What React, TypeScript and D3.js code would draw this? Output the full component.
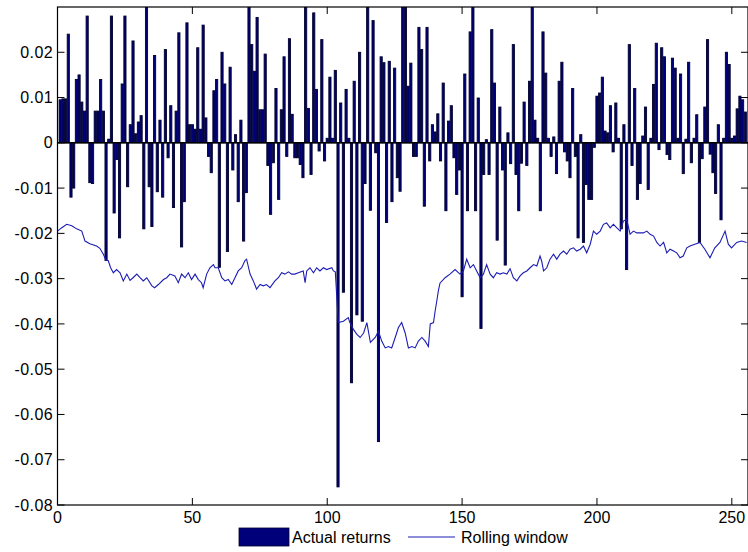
import React from 'react';
import * as d3 from 'd3';

// daily returns, one bar per day (day 1..255)
const returns = [
  0.0095, 0.0097, 0.0097, 0.024, -0.012, -0.01, 0.014, 0.015, 0.009, 0.007,
  0.028, -0.0088, -0.009, 0.007, 0.007, 0.014, 0.007, -0.026, 0.0008, 0.028,
  -0.0155, -0.0037, -0.021, 0.013, 0.028, -0.0097, 0.004, 0.0225, 0.002, 0.0046,
  0.006, -0.019, 0.031, -0.0097, -0.0185, 0.0193, -0.0108, 0.005, -0.012, 0.0206,
  -0.0033, 0.0082, -0.0143, 0.007, 0.0243, -0.023, -0.013, 0.0265, 0.004, 0.004,
  0.003, 0.021, 0.003, 0.026, 0.0055, -0.003, -0.0066, 0.0115, 0.014, -0.0275,
  0.02, 0.013, -0.024, 0.0167, -0.006, 0.0018, -0.013, 0.005, -0.0217, -0.011,
  0.031, 0.0217, 0.0158, 0.0277, 0.0073, 0.0073, 0.0196, -0.005, -0.0158, -0.0044,
  0.012, -0.0125, 0.0073, 0.019, -0.003, 0.023, 0.0063, -0.0033, -0.0033, -0.0048,
  -0.0077, 0.031, 0.0076, -0.007, 0.0287, 0.0118, -0.0018, 0.0228, -0.004, 0.001,
  0.0145, 0.001, 0.016, -0.076, 0.0088, -0.033, 0.0118, 0.001, -0.053, 0.0136,
  -0.038, 0.02, -0.0394, -0.009, 0.031, -0.0149, 0.027, -0.0022, -0.066, 0.019,
  0.0177, -0.0176, 0.018, -0.013, 0.0165, -0.0077, -0.0107, 0.031, 0.031, 0.0125,
  0.0176, -0.003, -0.003, 0.0255, 0.0206, -0.014, 0.0255, -0.004, 0.004, 0.0024,
  0.0064, -0.004, 0.0132, -0.015, 0.0048, 0.0082, -0.0033, -0.0114, -0.006, -0.034,
  0.0152, -0.015, 0.0245, 0.031, -0.015, 0.0099, -0.041, -0.007, 0.0007, -0.007,
  0.025, 0.0132, -0.0215, 0.0079, -0.006, -0.027, 0.0022, -0.0046, 0.0217, -0.007,
  -0.015, -0.0045, 0.009, -0.005, 0.0136, 0.031, 0.005, 0.001, -0.015, 0.0245,
  0.0154, 0.001, -0.003, 0.0013, -0.0068, 0.0136, 0.0178, -0.002, -0.004, -0.0077,
  0.012, -0.003, -0.021, 0.0018, -0.022, -0.0092, -0.0125, -0.0125, -0.001, 0.0103,
  0.011, 0.0145, 0.0026, 0.0022, 0.0082, -0.002, 0.0088, 0.001, -0.019, 0.004,
  -0.028, 0.0217, -0.005, 0.012, -0.0125, -0.009, 0.0015, 0.0079, -0.0103, 0.001,
  0.0129, 0.022, -0.0015, 0.021, 0.019, -0.0026, -0.0037, 0.0187, 0.0165, 0.001,
  0.0152, -0.0068, 0.0008, 0.0178, -0.0044, 0.001, 0.0062, -0.022, -0.0035, 0.0079,
  0.0228, -0.0025, -0.0066, -0.0112, 0.004, -0.017, 0.001, 0.02, 0.0173, 0.001,
  0.0015, 0.0075, 0.0103, 0.0095, 0.0068,
];

// rolling window estimate
const rollingDay = [
  0, 1.5, 3.4, 5.3, 7.1, 9, 10.2, 12, 14.5, 15.7, 17, 18, 18.8, 19.7, 20.7, 21.9, 23.2, 24.4, 25.7, 26.9,
  28, 29.4, 30.6, 31.8, 33.1, 35, 36, 37.4, 39.3, 40.5, 41.7, 43.5, 44.8, 46, 47.3, 48.5, 49.7, 51, 52.2, 53.4,
  54, 55.3, 56.5, 57.8, 58.4, 59.6, 60.9, 62.1, 63.3, 64.6, 65.8, 67, 68.3, 69.5, 70.1, 71.4, 72.6, 73.8, 75.1, 76.3,
  77.5, 78.8, 80.6, 81.9, 83.1, 84.3, 85.6, 86.8, 88, 89.3, 91.1, 91.8, 92.4, 93.6, 94.9, 96.1, 97.3, 98.6, 99.8, 101.7,
  102.3, 103, 104.1, 106, 107.8, 108.4, 109.7, 111, 112.2, 113.5, 114.7, 116, 117.8, 119, 120.2, 121.5, 122.7, 123.9, 125.2, 126.4,
  127.6, 128.9, 130.1, 131.4, 132.6, 133.8, 135.1, 136.3, 137.5, 138.2, 139.4, 140, 140.6, 141.2, 141.8, 143.7, 145.5, 147.4, 149.2, 150.5,
  151.7, 153, 154.2, 155.4, 156.7, 157.9, 159.1, 160.4, 161.6, 162.8, 164.1, 165.3, 166.6, 167.8, 169, 170.3, 171.5, 172.7, 174, 175.2,
  176.5, 177.7, 178.9, 179.5, 180.2, 181.4, 182.6, 183.9, 185.1, 186.3, 187.6, 188.8, 190, 191.3, 192.5, 193.8, 195, 196.2, 197.5, 198.7,
  199.9, 201.2, 202.4, 203.6, 204.9, 206.1, 207.4, 208.6, 209.8, 211, 212.3, 213.5, 214.8, 216, 217.2, 218.5, 219.7, 221, 222.2, 223.4,
  224.7, 225.9, 227.1, 228.4, 229.6, 230.8, 232, 233.3, 234.5, 236.3, 238.2, 240, 241.9, 243.7, 245.6, 247.5, 248.7, 249.9, 251.8, 253.6,
  255.5,
];
const rollingValue = [
  -0.0195, -0.0188, -0.018, -0.0183, -0.019, -0.0195, -0.0217, -0.0223, -0.0228, -0.0233, -0.0246, -0.026, -0.026, -0.0276, -0.0287, -0.028, -0.0287, -0.0305, -0.029, -0.0304,
  -0.0298, -0.029, -0.0298, -0.0305, -0.0298, -0.0316, -0.032, -0.0313, -0.0302, -0.0298, -0.029, -0.0294, -0.0309, -0.029, -0.0298, -0.0287, -0.0302, -0.029, -0.0302, -0.0309,
  -0.032, -0.029, -0.0276, -0.0269, -0.0276, -0.0276, -0.0298, -0.0305, -0.0302, -0.0313, -0.0298, -0.0283, -0.0276, -0.026, -0.0257, -0.029, -0.0305, -0.0323, -0.0313, -0.0316,
  -0.0313, -0.032, -0.0305, -0.0298, -0.0287, -0.029, -0.0285, -0.029, -0.029, -0.0287, -0.0283, -0.0309, -0.0283, -0.0276, -0.0287, -0.0276, -0.0283, -0.0276, -0.028, -0.0276,
  -0.0283, -0.0285, -0.0397, -0.0394, -0.0386, -0.0397, -0.0412, -0.0423, -0.043, -0.042, -0.0397, -0.0441, -0.043, -0.0416, -0.0438, -0.0453, -0.045, -0.0453, -0.043, -0.0408,
  -0.0397, -0.042, -0.0453, -0.045, -0.0453, -0.0438, -0.043, -0.0438, -0.045, -0.04, -0.0397, -0.0372, -0.035, -0.0327, -0.031, -0.0298, -0.029, -0.028, -0.029, -0.0283,
  -0.0257, -0.0276, -0.0269, -0.0283, -0.0298, -0.029, -0.0269, -0.029, -0.0298, -0.0287, -0.029, -0.0287, -0.029, -0.0278, -0.0298, -0.0305, -0.0294, -0.0287, -0.0283, -0.0276,
  -0.0269, -0.0272, -0.025, -0.0261, -0.0283, -0.0276, -0.0257, -0.0246, -0.0257, -0.0246, -0.0239, -0.0246, -0.0235, -0.0232, -0.0239, -0.0235, -0.0228, -0.0243, -0.0224, -0.0195,
  -0.0202, -0.0195, -0.018, -0.0177, -0.0188, -0.018, -0.0188, -0.0195, -0.0173, -0.0169, -0.0202, -0.0195, -0.0199, -0.0199, -0.0199, -0.0195, -0.0202, -0.0206, -0.022, -0.0228,
  -0.022, -0.0243, -0.0235, -0.0239, -0.0243, -0.0254, -0.025, -0.0232, -0.0228, -0.0224, -0.022, -0.0235, -0.0254, -0.0232, -0.022, -0.0195, -0.0224, -0.0232, -0.022, -0.0217,
  -0.022,
];

const xTicks = [0, 50, 100, 150, 200, 250];
const yTicks = [0.02, 0.01, 0, -0.01, -0.02, -0.03, -0.04, -0.05, -0.06, -0.07, -0.08];
const yTickLabels = ['0.02', '0.01', '0', '-0.01', '-0.02', '-0.03', '-0.04', '-0.05', '-0.06', '-0.07', '-0.08'];

const W = 748;
const H = 552;
const FONT = '"Liberation Sans", Arial, Helvetica, sans-serif';
const BAR = '#00007a';
const EDGE = '#000030';
const LINE = '#1c1cb4';

export default function App() {
  const x = d3.scaleLinear().domain([0, 256]).range([57.5, 748]);
  const y = d3.scaleLinear().domain([-0.08, 0.03]).range([505, 7]);
  const bw = x(0.8) - x(0);

  const line = d3
    .line<number>()
    .x((_, i) => x(rollingDay[i]))
    .y((d) => y(d))
    .curve(d3.curveLinear);

  const [x0, x1] = x.range();
  const [yb, yt] = y.range();
  const tick = 7;

  return (
    <svg
      width={W}
      height={H}
      style={{ position: 'absolute', left: 0, top: 0, background: '#fff' }}
      fontFamily={FONT}
    >
      <defs>
        <clipPath id="plot">
          <rect x={x0} y={yt} width={x1 - x0} height={yb - yt} />
        </clipPath>
      </defs>
      <rect x={0} y={0} width={W} height={H} fill="#fff" />

      <g clipPath="url(#plot)">
        {returns.map((v, i) => {
          const cx = x(i + 1);
          const top = Math.min(y(v), y(0));
          const h = Math.abs(y(v) - y(0));
          return (
            <rect
              key={i}
              x={cx - bw / 2}
              y={top}
              width={bw}
              height={Math.max(h, 0.5)}
              fill={BAR}
              stroke={EDGE}
              strokeWidth={0.9}
            />
          );
        })}
        <line x1={x0} x2={x1} y1={y(0)} y2={y(0)} stroke="#000" strokeWidth={1.6} />
        <path d={line(rollingValue) || ''} fill="none" stroke={LINE} strokeWidth={1.1} />
      </g>

      {/* axes box */}
      <rect x={x0} y={yt} width={x1 - x0} height={yb - yt} fill="none" stroke="#000" strokeWidth={1.2} />

      {yTicks.map((t, i) => (
        <g key={t}>
          <line x1={x0} x2={x0 + tick} y1={y(t)} y2={y(t)} stroke="#000" />
          <line x1={x1 - tick} x2={x1} y1={y(t)} y2={y(t)} stroke="#000" />
          <text x={53} y={y(t)} dy="0.35em" textAnchor="end" fontSize={16} letterSpacing={0.4} fill="#000">
            {yTickLabels[i]}
          </text>
        </g>
      ))}

      {xTicks.map((t) => (
        <g key={t}>
          <line x1={x(t)} x2={x(t)} y1={yb} y2={yb - tick} stroke="#000" />
          <line x1={x(t)} x2={x(t)} y1={yt} y2={yt + tick} stroke="#000" />
          <text x={x(t)} y={523} textAnchor="middle" fontSize={16} fill="#000">
            {t}
          </text>
        </g>
      ))}

      {/* legend */}
      <g fontSize={16} fill="#000">
        <rect x={239} y={528} width={50} height={18} fill={BAR} stroke={EDGE} strokeWidth={0.8} />
        <text x={292} y={543}>Actual returns</text>
        <line x1={408} x2={455} y1={537} y2={537} stroke={LINE} strokeWidth={1.1} />
        <text x={461} y={543}>Rolling window</text>
      </g>
    </svg>
  );
}
